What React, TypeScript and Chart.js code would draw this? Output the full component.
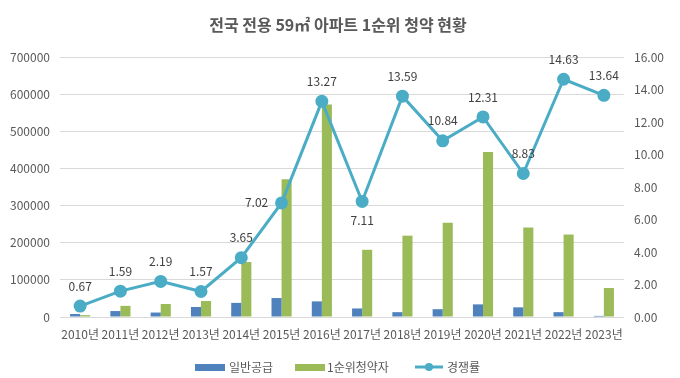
import React, { useEffect, useRef } from "react";
import { Chart, registerables } from "chart.js";

Chart.register(...registerables);

const categories = ["2010년", "2011년", "2012년", "2013년", "2014년", "2015년", "2016년", "2017년", "2018년", "2019년", "2020년", "2021년", "2022년", "2023년"];
const generalSupply = [8000, 16000, 12000, 27000, 38000, 51000, 42000, 23000, 13000, 21000, 34000, 26000, 13000, 3000];
const firstApplicants = [5000, 30000, 35000, 43000, 148000, 371000, 572000, 181000, 219000, 254000, 444000, 241000, 222000, 78000];
const competition = [0.67, 1.59, 2.19, 1.57, 3.65, 7.02, 13.27, 7.11, 13.59, 10.84, 12.31, 8.83, 14.63, 13.64];
const labelSides = ["top", "top", "top", "top", "top", "left", "top", "bottom", "top", "top", "top", "top", "top", "top"];
const seriesNames = ["일반공급", "1순위청약자", "경쟁률"];
const titleText = "전국 전용 59㎡ 아파트 1순위 청약 현황";

const FONT = "'Noto Sans CJK KR', 'Noto Sans', sans-serif";
const BLUE = "#4F81BD";
const GREEN = "#9BBB59";
const TEAL = "#4BACC6";
const TEXT = "#595959";

const customPlugin = {
  id: "custom",
  afterDatasetsDraw(chart: any) {
    const ctx = chart.ctx;
    const meta = chart.getDatasetMeta(2);
    ctx.save();
    ctx.font = `12px ${FONT}`;
    ctx.fillStyle = "#404040";
    ctx.textAlign = "center";
    ctx.textBaseline = "middle";
    meta.data.forEach((pt: any, i: number) => {
      const side = labelSides[i];
      let x = pt.x;
      let y = pt.y;
      if (side === "top") y -= 20;
      else if (side === "bottom") y += 19;
      else if (side === "left") x -= 25;
      ctx.fillText(competition[i].toFixed(2), x, y);
    });
    ctx.restore();
  },
  afterDraw(chart: any) {
    const ctx = chart.ctx;
    ctx.save();
    // title
    ctx.font = `bold 16px ${FONT}`;
    ctx.fillStyle = TEXT;
    ctx.textAlign = "center";
    ctx.textBaseline = "middle";
    ctx.fillText(titleText, 338, 25);
    // legend
    const ly = 367;
    ctx.font = `12px ${FONT}`;
    ctx.textAlign = "left";
    ctx.fillStyle = BLUE;
    ctx.fillRect(195, ly - 3, 30, 7);
    ctx.fillStyle = TEXT;
    ctx.fillText(seriesNames[0], 229, ly);
    ctx.fillStyle = GREEN;
    ctx.fillRect(295, ly - 3, 30, 7);
    ctx.fillStyle = TEXT;
    ctx.fillText(seriesNames[1], 327, ly);
    ctx.strokeStyle = TEAL;
    ctx.lineWidth = 3;
    ctx.beginPath();
    ctx.moveTo(415, ly);
    ctx.lineTo(443, ly);
    ctx.stroke();
    ctx.fillStyle = TEAL;
    ctx.beginPath();
    ctx.arc(429, ly, 4, 0, Math.PI * 2);
    ctx.fill();
    ctx.fillStyle = TEXT;
    ctx.fillText(seriesNames[2], 447, ly);
    ctx.restore();
  },
};

export default function App() {
  const ref = useRef<HTMLCanvasElement>(null);
  useEffect(() => {
    if (!ref.current) return;
    const chart = new Chart(ref.current, {
      type: "bar",
      data: {
        labels: categories,
        datasets: [
          {
            type: "bar",
            label: seriesNames[0],
            data: generalSupply,
            backgroundColor: BLUE,
            yAxisID: "y",
            categoryPercentage: 0.5,
            barPercentage: 1,
            order: 2,
          },
          {
            type: "bar",
            label: seriesNames[1],
            data: firstApplicants,
            backgroundColor: GREEN,
            yAxisID: "y",
            categoryPercentage: 0.5,
            barPercentage: 1,
            order: 2,
          },
          {
            type: "line",
            label: seriesNames[2],
            data: competition,
            borderColor: TEAL,
            backgroundColor: TEAL,
            borderWidth: 3,
            pointRadius: 5,
            pointBackgroundColor: TEAL,
            pointBorderColor: TEAL,
            yAxisID: "y1",
            tension: 0,
            order: 0,
          } as any,
        ],
      },
      options: {
        animation: false,
        responsive: true,
        maintainAspectRatio: false,
        layout: { padding: { top: 57, bottom: 21, left: 0, right: 0 } },
        plugins: {
          legend: { display: false },
          title: { display: false },
          tooltip: { enabled: false },
        },
        scales: {
          x: {
            grid: { display: false, drawTicks: false },
            border: { display: false },
            ticks: {
              autoSkip: false,
              maxRotation: 0,
              minRotation: 0,
              padding: 10,
              color: TEXT,
              font: { family: FONT, size: 12 },
            },
            afterFit(scale: any) {
              scale.height = 40;
            },
          },
          y: {
            position: "left",
            min: 0,
            max: 700000,
            ticks: {
              stepSize: 100000,
              padding: 10,
              color: TEXT,
              font: { family: FONT, size: 12 },
              callback: (v: any) => String(v),
            },
            grid: { color: "#D9D9D9", drawTicks: false, lineWidth: 1 },
            border: { display: false },
            afterFit(scale: any) {
              scale.width = 60;
            },
          },
          y1: {
            position: "right",
            min: 0,
            max: 16,
            ticks: {
              stepSize: 2,
              padding: 10,
              color: TEXT,
              font: { family: FONT, size: 12 },
              callback: (v: any) => Number(v).toFixed(2),
            },
            grid: { display: false, drawTicks: false },
            border: { display: false },
            afterFit(scale: any) {
              scale.width = 56;
            },
          },
        },
      },
      plugins: [customPlugin],
    });
    return () => chart.destroy();
  }, []);
  return (
    <div style={{ position: "fixed", left: 0, top: 0, width: 680, height: 378, background: "#fff" }}>
      <canvas ref={ref} />
    </div>
  );
}
